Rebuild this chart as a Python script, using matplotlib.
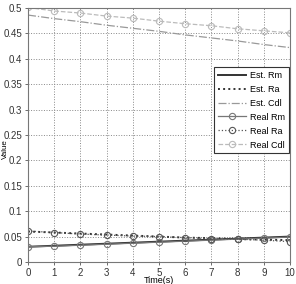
import numpy as np
import matplotlib.pyplot as plt

plt.rcParams['font.family'] = ['Liberation Sans Narrow', 'Liberation Sans', 'DejaVu Sans']

t = [0, 1, 2, 3, 4, 5, 6, 7, 8, 9, 10]
est_rm = [0.030, 0.032, 0.034, 0.036, 0.038, 0.040, 0.042, 0.044, 0.046, 0.048, 0.050]
est_ra = [0.060, 0.058, 0.056, 0.054, 0.052, 0.050, 0.048, 0.047, 0.045, 0.044, 0.043]
est_cdl = [0.486, 0.479, 0.473, 0.466, 0.460, 0.454, 0.447, 0.441, 0.435, 0.428, 0.422]
real_rm = [0.030, 0.031, 0.033, 0.035, 0.037, 0.039, 0.041, 0.043, 0.045, 0.047, 0.049]
real_ra = [0.061, 0.058, 0.055, 0.053, 0.051, 0.050, 0.048, 0.046, 0.045, 0.043, 0.040]
real_cdl = [0.501, 0.494, 0.490, 0.484, 0.480, 0.474, 0.469, 0.465, 0.459, 0.455, 0.451]

fig = plt.figure(figsize=(2.96, 2.84), dpi=100)
ax = fig.add_axes([0.0946, 0.0775, 0.885, 0.8945])

ax.plot(t, est_rm, '-', c='#333333', lw=1.4, label='Est. Rm')
ax.plot(t, est_ra, ':', c='#333333', lw=1.4, label='Est. Ra')
ax.plot(t, est_cdl, '-.', c='#999999', lw=0.9, label='Est. Cdl')
ax.plot(t, real_rm, '-', c='#777777', lw=0.9, marker='o', ms=4.5, mfc='none', mew=0.8, label='Real Rm')
ax.plot(t, real_ra, ':', c='#555555', lw=0.9, marker='o', ms=4.5, mfc='none', mew=0.8, label='Real Ra')
ax.plot(t, real_cdl, '--', c='#bbbbbb', lw=0.9, marker='o', ms=4.5, mfc='none', mew=0.8, label='Real Cdl')

ax.set_xlim(0, 10)
ax.set_ylim(0, 0.5)
ax.set_xticks(range(0, 11))
ax.set_yticks(np.arange(0, 0.51, 0.05))
ax.set_yticklabels(['0', '0.05', '0.1', '0.15', '0.2', '0.25', '0.3', '0.35', '0.4', '0.45', '0.5'])
ax.grid(True, ls=':', c='#888888', lw=0.7)
ax.tick_params(labelsize=7, length=2, width=0.5, colors='#333333', pad=2)
for s in ax.spines.values():
    s.set_color('#777777')
    s.set_linewidth(0.8)

ax.set_xlabel('Time(s)', fontsize=6.5)
ax.set_ylabel('Value', fontsize=5.8)
ax.xaxis.set_label_coords(0.5, -0.055)
ax.yaxis.set_label_coords(-0.072, 0.446)

leg = ax.legend(loc='upper right', bbox_to_anchor=(0.995, 0.767), fontsize=6.5,
                fancybox=False, framealpha=1, edgecolor='#333333',
                handlelength=3.2, handletextpad=0.4, labelspacing=0.55,
                borderpad=0.4, borderaxespad=0)
leg.get_frame().set_linewidth(0.8)

fig.savefig('out.png', dpi=100)
